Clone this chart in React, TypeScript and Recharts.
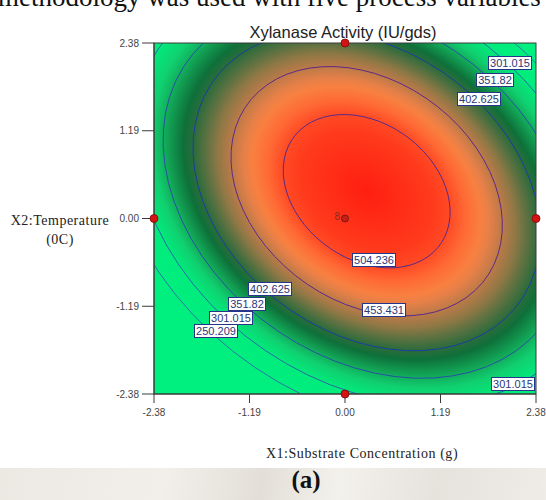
import React from 'react';
import { ScatterChart, Scatter, XAxis, YAxis, ReferenceArea } from 'recharts';

// ---- data (coded units) ----
const axisTicks = [-2.38, -1.19, 0.0, 1.19, 2.38];
const axisDomain = [-2.38, 2.38];

// centre (optimum) of the response-surface contours
const optimumX1 = 0.27;
const optimumX2 = 0.37;

// contour levels and the semi-axes of each contour ellipse (major along X1=-X2, minor along X1=X2)
const contourLevels = [504.236, 453.431, 402.625, 351.82, 301.015, 250.209];
const contourMajor = [1.173, 1.907, 2.441, 2.861, 3.261, 3.604];
const contourMinor = [0.887, 1.443, 1.847, 2.165, 2.468, 2.727];
const contourTiltDeg = -45;

// contour labels placed on the plot
const labelTexts = ['301.015', '351.82', '402.625', '504.236', '453.431', '402.625', '351.82', '301.015', '250.209', '301.015'];
const labelX1 = [2.05, 1.86, 1.66, 0.35, 0.48, -0.94, -1.23, -1.43, -1.61, 2.09];
const labelX2 = [2.11, 1.89, 1.63, -0.56, -1.24, -0.95, -1.15, -1.34, -1.52, -2.24];

// design points (runs) and replicate counts
const runX1 = [0, -2.38, 0, 2.38, 0];
const runX2 = [2.38, 0, 0, 0, -2.38];
const runReplicates = [1, 1, 8, 1, 1];

// ---- styles ----
const contourColors = ['#5a2a88', '#5a2a88', '#1c3c9e', '#2850a6', '#2a6aa6', '#2e76a6'];
// gradient stops: [relative radius (453.431 contour = 1), colour]
const gradientRadius = 2.0;
const surfaceStops: [number, string][] = [
  [0, '#ff1e10'],
  [0.48, '#ff3a1c'],
  [0.615, '#ff4a25'],
  [0.73, '#ff6a35'],
  [0.84, '#f88040'],
  [0.9, '#e88048'],
  [1.0, '#bc7a48'],
  [1.1, '#8e7845'],
  [1.17, '#657242'],
  [1.27, '#2e6c3c'],
  [1.35, '#0e7039'],
  [1.48, '#12a858'],
  [1.58, '#10d070'],
  [1.72, '#00ec7c'],
  [2.0, '#00f080'],
];

const labelData = labelTexts.map((text, i) => ({ x: labelX1[i], y: labelX2[i], text }));
const runData = runX1.map((x, i) => ({ x, y: runX2[i], n: runReplicates[i] }));

const SurfaceShape = (props: any) => {
  const { x, y, width, height } = props;
  const [d0, d1] = axisDomain;
  const sx = width / (d1 - d0);
  const sy = height / (d1 - d0);
  const tx = x - d0 * sx;
  const ty = y + d1 * sy;
  const matrix = `matrix(${sx} 0 0 ${-sy} ${tx} ${ty})`;
  const place = `translate(${optimumX1} ${optimumX2}) rotate(${contourTiltDeg})`;
  return (
    <g>
      <defs>
        <clipPath id="plotClip">
          <rect x={x} y={y} width={width} height={height} />
        </clipPath>
        <radialGradient
          id="surfGrad"
          gradientUnits="userSpaceOnUse"
          cx={0}
          cy={0}
          r={gradientRadius}
          fx={0}
          fy={0}
          gradientTransform={`${place} scale(${contourMajor[1]} ${contourMinor[1]})`}
        >
          {surfaceStops.map(([o, c], i) => (
            <stop key={i} offset={o / gradientRadius} stopColor={c} />
          ))}
        </radialGradient>
      </defs>
      <g clipPath="url(#plotClip)">
        <g transform={matrix}>
          <rect x={d0} y={d0} width={d1 - d0} height={d1 - d0} fill="url(#surfGrad)" />
          {contourLevels.map((lv, i) => (
            <ellipse
              key={lv}
              cx={0}
              cy={0}
              rx={contourMajor[i]}
              ry={contourMinor[i]}
              transform={place}
              fill="none"
              stroke={contourColors[i]}
              strokeWidth={1}
              vectorEffect="non-scaling-stroke"
            />
          ))}
        </g>
      </g>
      <rect x={x} y={y} width={width} height={height} fill="none" stroke="#3a3a3a" strokeWidth={1} />
    </g>
  );
};

const charWidth = (s: string) => {
  let w = 0;
  for (const ch of s) w += ch === '.' ? 3.06 : 6.12;
  return w;
};

const LabelBox = (props: any) => {
  const { cx, cy, payload } = props;
  if (cx == null || cy == null) return null;
  const t: string = payload.text;
  const w = Math.round(charWidth(t) + 3);
  const h = 13;
  const left = Math.round(cx - w / 2) + 0.5;
  const top = Math.round(cy - h / 2) + 0.5;
  return (
    <g>
      <rect x={left} y={top} width={w} height={h} fill="#ffffff" stroke="#24358a" strokeWidth={1} />
      <text
        x={left + w / 2}
        y={top + h / 2}
        dy="0.36em"
        textAnchor="middle"
        fontSize={11}
        fontFamily="'Liberation Sans', Arial, sans-serif"
        fill="#2a3878"
      >
        {t}
      </text>
    </g>
  );
};

const RunPoint = (props: any) => {
  const { cx, cy, payload } = props;
  if (cx == null || cy == null) return null;
  if (payload.n > 1) {
    return (
      <g>
        <circle cx={cx} cy={cy} r={3.5} fill="#c42018" stroke="#6a1010" strokeWidth={0.8} />
        <text
          x={cx - 5}
          y={cy}
          dy="0.1em"
          textAnchor="end"
          fontSize={10}
          fontFamily="'Liberation Sans', Arial, sans-serif"
          fill="#8a2a20"
        >
          {payload.n}
        </text>
      </g>
    );
  }
  return <circle cx={cx} cy={cy} r={4} fill="#d41414" stroke="#7a0808" strokeWidth={0.8} />;
};

const tickStyle = { fontSize: 10, fill: '#444', fontFamily: "'Liberation Sans', Arial, sans-serif" };
const fmt = (v: number) => v.toFixed(2);

export default function App() {
  return (
    <div
      style={{
        position: 'absolute',
        left: 0,
        top: 0,
        width: 546,
        height: 500,
        overflow: 'hidden',
        background: '#fff',
      }}
    >
      <div
        style={{
          position: 'absolute',
          left: 0,
          top: 468,
          width: 546,
          height: 32,
          background:
            'linear-gradient(100deg, #ece9e3 0%, #f2efea 30%, #e3dfd8 48%, #f3f1ec 62%, #e6e2dc 80%, #efece7 100%)',
        }}
      />
      <div
        style={{
          position: 'absolute',
          left: -2,
          top: -16,
          whiteSpace: 'nowrap',
          fontFamily: "'Liberation Serif', 'Times New Roman', serif",
          fontSize: 27,
          lineHeight: '27px',
          color: '#111',
        }}
      >
        methodology was used with five process variables
      </div>
      <div style={{ position: 'absolute', left: 0, top: 0 }}>
        <ScatterChart width={546} height={500} margin={{ top: 43, right: 10, bottom: 76, left: 104 }}>
          <XAxis
            type="number"
            dataKey="x"
            domain={axisDomain}
            ticks={axisTicks}
            interval={0}
            tickFormatter={fmt}
            tick={tickStyle}
            tickSize={9}
            tickMargin={6}
            height={30}
            axisLine={{ stroke: '#3a3a3a' }}
            tickLine={{ stroke: '#3a3a3a' }}
          />
          <YAxis
            type="number"
            dataKey="y"
            domain={axisDomain}
            ticks={axisTicks}
            interval={0}
            tickFormatter={fmt}
            tick={tickStyle}
            tickSize={12}
            tickMargin={3}
            width={50}
            axisLine={{ stroke: '#3a3a3a' }}
            tickLine={{ stroke: '#3a3a3a' }}
          />
          <ReferenceArea
            x1={axisDomain[0]}
            x2={axisDomain[1]}
            y1={axisDomain[0]}
            y2={axisDomain[1]}
            ifOverflow="visible"
            shape={SurfaceShape}
          />
          <Scatter data={labelData} shape={LabelBox} isAnimationActive={false} />
          <Scatter data={runData} shape={RunPoint} isAnimationActive={false} />
        </ScatterChart>
      </div>
      <div
        style={{
          position: 'absolute',
          left: 243,
          top: 24,
          width: 200,
          textAlign: 'center',
          fontFamily: "'Liberation Sans', Arial, sans-serif",
          fontSize: 16.5,
          lineHeight: '16px',
          color: '#222',
          whiteSpace: 'nowrap',
        }}
      >
        Xylanase Activity (IU/gds)
      </div>
      <div
        style={{
          position: 'absolute',
          left: 0,
          top: 211,
          width: 120,
          textAlign: 'center',
          fontFamily: "'Liberation Serif', 'Times New Roman', serif",
          fontSize: 14,
          lineHeight: '19px',
          letterSpacing: 0.5,
          color: '#222',
        }}
      >
        X2:Temperature
        <br />
        (0C)
      </div>
      <div
        style={{
          position: 'absolute',
          left: 262,
          top: 446,
          width: 200,
          textAlign: 'center',
          fontFamily: "'Liberation Serif', 'Times New Roman', serif",
          fontSize: 14,
          lineHeight: '16px',
          letterSpacing: 0.55,
          color: '#222',
          whiteSpace: 'nowrap',
        }}
      >
        X1:Substrate Concentration (g)
      </div>
      <div
        style={{
          position: 'absolute',
          left: 256,
          top: 466,
          width: 100,
          textAlign: 'center',
          fontFamily: "'Liberation Serif', 'Times New Roman', serif",
          fontWeight: 'bold',
          fontSize: 25,
          lineHeight: '28px',
          color: '#111',
        }}
      >
        (a)
      </div>
    </div>
  );
}
